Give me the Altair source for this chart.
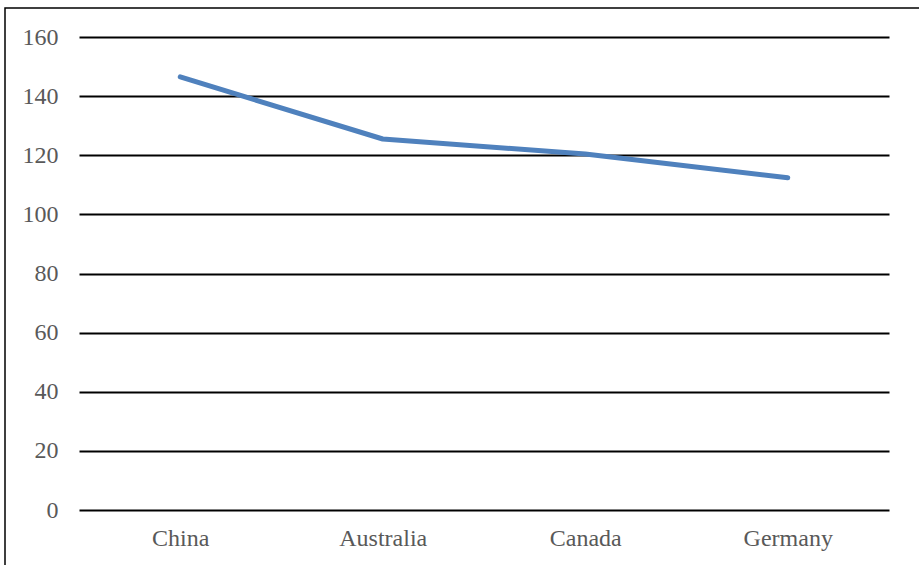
import altair as alt
import pandas as pd

countries = ["China", "Australia", "Canada", "Germany"]
values = [146.5, 125.5, 120.4, 112.4]
y_ticks = [0, 20, 40, 60, 80, 100, 120, 140, 160]

df = pd.DataFrame({"country": countries, "value": values})

FONT = "Liberation Serif"

line = alt.Chart(df).mark_line(
    color="#4f81bd", strokeWidth=5, strokeCap="round", strokeJoin="round"
).encode(
    x=alt.X(
        "country:N",
        sort=countries,
        scale=alt.Scale(type="point", padding=0.5),
        axis=alt.Axis(
            title=None, domain=False, ticks=False, grid=False,
            labelAngle=0, labelFont=FONT, labelFontSize=24,
            labelColor="#595959", labelPadding=16,
        ),
    ),
    y=alt.Y(
        "value:Q",
        scale=alt.Scale(domain=[0, 160], nice=False),
        axis=alt.Axis(
            title=None, values=y_ticks, domain=False, ticks=False,
            grid=True, gridColor="#000000", gridWidth=1.8,
            labelFont=FONT, labelFontSize=24, labelColor="#595959",
            labelPadding=21,
        ),
    ),
)

frame = alt.Chart(pd.DataFrame({"a": [0]})).mark_rect(
    fill=None, stroke="#000000", strokeWidth=1.5
).encode(
    x=alt.value(-74), x2=alt.value(900), y=alt.value(-29), y2=alt.value(600)
)

chart = alt.layer(frame, line).properties(
    width=810, height=473,
    autosize=alt.AutoSizeParams(type="none"),
    padding={"left": 79, "top": 37, "right": 30, "bottom": 55},
    view=alt.ViewBackground(stroke="white", strokeWidth=0, strokeOpacity=0),
).configure_view(strokeWidth=0, strokeOpacity=0).configure(background="white")

chart.save("out.html", embed_options={"renderer": "svg", "actions": False})
